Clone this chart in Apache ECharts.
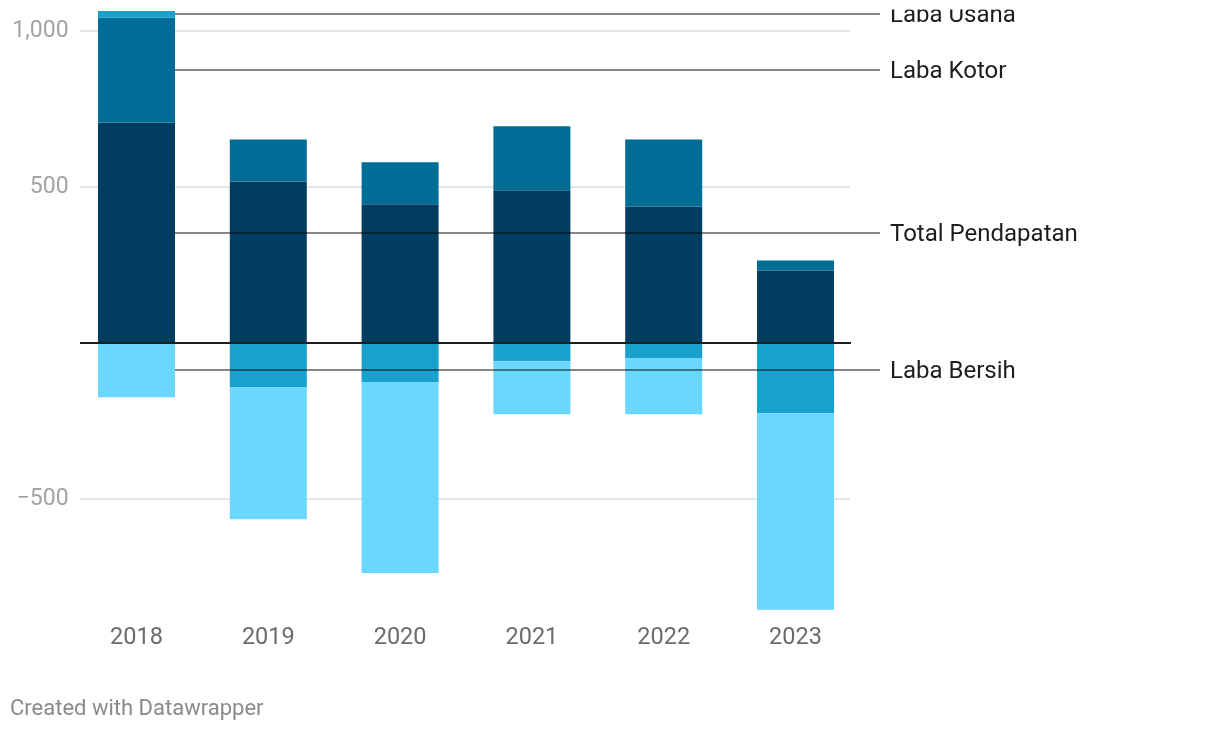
<!DOCTYPE html>
<html>
<head>
<meta charset="utf-8">
<script src="https://cdn.jsdelivr.net/npm/echarts@6/dist/echarts.min.js"></script>
<style>
html,body{margin:0;padding:0;background:#fff;}
#chart{width:1220px;height:732px;}
</style>
</head>
<body>
<div id="chart"></div>
<script>
const years = ['2018', '2019', '2020', '2021', '2022', '2023'];
const seriesNames = ['Total Pendapatan', 'Laba Kotor', 'Laba Usaha', 'Laba Bersih'];
const totalPendapatan = [707, 518, 445, 490, 438, 233];
const labaKotor = [336, 135, 135, 205, 215, 32];
const labaUsaha = [22, -142, -126, -58, -49, -225];
const labaBersih = [-174, -423, -611, -170, -179, -630];
const yTickLabels = [-500, 500, 1000];
const colors = ['#003d61', '#006d97', '#19a1cd', '#6ad7ff'];

const seriesData = [totalPendapatan, labaKotor, labaUsaha, labaBersih];
const FONT = 'Roboto, "Noto Sans", sans-serif';

const chart = echarts.init(document.getElementById('chart'), null, {renderer: 'canvas'});

const option = {
  animation: false,
  backgroundColor: '#ffffff',
  grid: {left: 70.6, right: 358.6, top: 0, bottom: 77, containLabel: false},
  xAxis: {
    type: 'category',
    data: years,
    offset: -40,
    axisLine: {show: false},
    axisTick: {show: false},
    axisLabel: {color: '#6b6b6b', fontSize: 23.5, fontFamily: FONT, margin: 11}
  },
  yAxis: {
    type: 'value',
    min: -1000,
    max: 1100,
    interval: 500,
    splitLine: {show: false},
    axisLine: {show: false},
    axisTick: {show: false},
    axisLabel: {
      color: '#a3a3a3', fontSize: 23, fontFamily: FONT, margin: 2,
      formatter: function (v) {
        if (yTickLabels.indexOf(v) < 0) return '';
        if (v < 0) return '\u2212' + Math.abs(v).toLocaleString('en-US');
        return v.toLocaleString('en-US');
      }
    }
  },
  series: seriesNames.map(function (name, i) {
    return {
      name: name,
      type: 'bar',
      stack: 'total',
      barWidth: 77,
      data: seriesData[i],
      itemStyle: {color: colors[i]},
      emphasis: {disabled: true}
    };
  }),
  graphic: [
    {type: 'text', left: 10, top: 698, z: 100,
     style: {text: 'Created with Datawrapper', fill: '#8a8a8a', fontSize: 22, fontFamily: FONT}}
  ]
};
chart.setOption(option);

// computed overlays: gridlines, zero line, leader lines + labels
function px(yVal) { return chart.convertToPixel({yAxisIndex: 0}, yVal); }
function pxX(idx) { return chart.convertToPixel({xAxisIndex: 0}, idx); }

const gLeft = 80, gRight = 850;
const g = [];
yTickLabels.forEach(function (v) {
  const y = Math.round(px(v));
  g.push({type: 'line', z: 0, silent: true,
    shape: {x1: gLeft, y1: y, x2: gRight, y2: y},
    style: {stroke: '#e5e5e5', lineWidth: 2}});
});
const y0 = Math.round(px(0));
g.push({type: 'line', z: 50, silent: true,
  shape: {x1: gLeft, y1: y0, x2: gRight + 1, y2: y0},
  style: {stroke: '#1d1d1d', lineWidth: 2}});

// mid points of 2018 segments
let pos = 0, neg = 0;
const barRight = pxX(0) + 77 / 2;
seriesData.forEach(function (arr, i) {
  const v = arr[0];
  let mid;
  if (v >= 0) { mid = pos + v / 2; pos += v; } else { mid = neg + v / 2; neg += v; }
  const y = Math.round(px(mid));
  g.push({type: 'line', z: 60, silent: true,
    shape: {x1: barRight, y1: y, x2: 880, y2: y},
    style: {stroke: 'rgba(0,0,0,0.47)', lineWidth: 2}});
  g.push({type: 'text', z: 60, silent: true, x: 890, y: y + 1.5,
    style: {text: seriesNames[i], fill: '#1d1d1d', fontSize: 24, fontFamily: FONT,
            textVerticalAlign: 'middle', textAlign: 'left', verticalAlign: 'middle', align: 'left'}});
});
// top clip (reference cuts text at plot top)
g.push({type: 'rect', z: 70, silent: true, shape: {x: 884, y: 0, width: 300, height: 9.5},
  style: {fill: '#ffffff'}});

chart.setOption({graphic: option.graphic.concat(g)});
</script>
</body>
</html>
